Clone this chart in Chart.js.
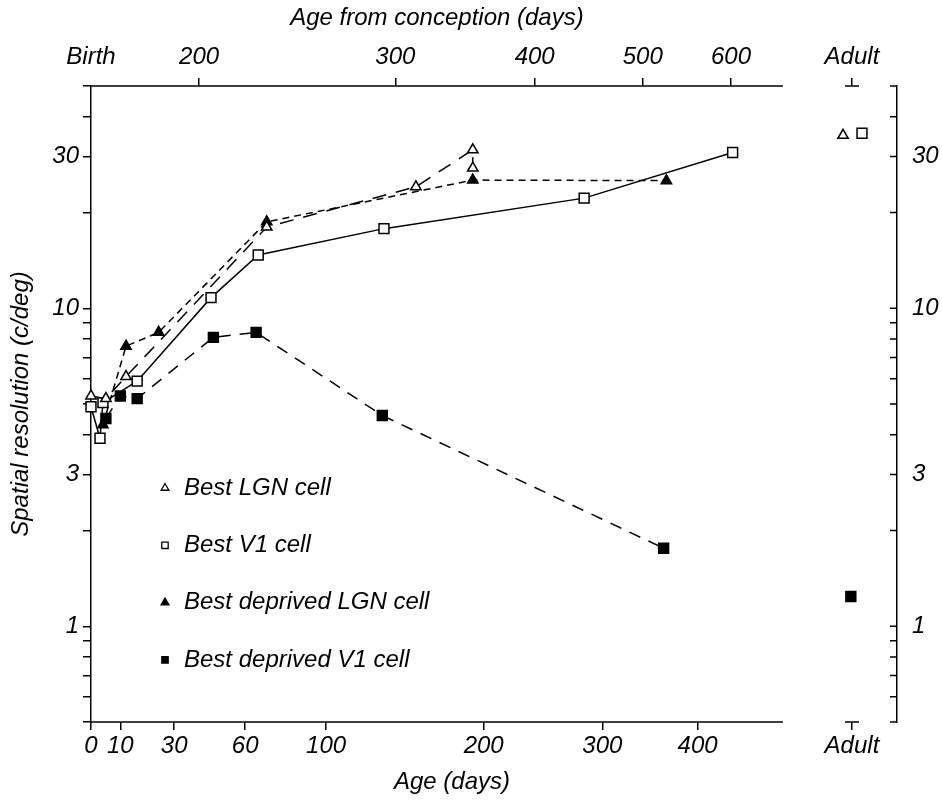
<!DOCTYPE html>
<html>
<head>
<meta charset="utf-8">
<title>Spatial resolution vs age</title>
<script src="https://cdn.jsdelivr.net/npm/chart.js@4.4.1/dist/chart.umd.min.js"></script>
<style>
  body { margin: 0; background: #fff; }
  canvas { display: block; }
</style>
</head>
<body>
<canvas id="chart" width="942" height="803"></canvas>
<script>
////data //////////////////////////////////////////////////////////////

// days from conception to birth (top axis = age + this)
const GESTATION = 160;

// Best LGN cell (open triangles)
const lgnAges = [0, 5, 12, 70, 153, 192, 192];
const lgnRes = [5.3, 5.2, 6.1, 18.0, 24.1, 31.5, 27.6];

// Best V1 cell (open squares)
const v1Ages = [0, 3, 4, 16, 45, 66, 133, 283, 442];
const v1Res = [4.9, 3.9, 5.05, 5.9, 10.8, 14.7, 17.8, 22.2, 30.9];

// Best deprived LGN cell (filled triangles)
const depLgnAges = [4, 12, 24, 70, 192, 365];
const depLgnRes = [4.3, 7.6, 8.4, 18.7, 25.3, 25.2];

// Best deprived V1 cell (filled squares)
const depV1Ages = [5, 10, 16, 46, 65, 132, 362];
const depV1Res = [4.5, 5.3, 5.2, 8.1, 8.4, 4.6, 1.76];

// adult values: LGN, V1, deprived V1
const adultRes = [35.0, 35.5, 1.24];

// ticks
const ageTicks = [0, 10, 30, 60, 100, 200, 300, 400];
const conceptionTicks = [160, 200, 300, 400, 500, 600];
const conceptionLabels = ["Birth", "200", "300", "400", "500", "600"];
const resTicks = [0.5, 0.6, 0.7, 0.8, 0.9, 1, 2, 3, 4, 5, 6, 7, 8, 9, 10, 20, 30, 40, 50];
const resLabels = [1, 3, 10, 30];

////axis layout ///////////////////////////////////////////////////////

const toX = (age) => Math.log10(age + GESTATION);
const X_MIN = toX(0);
const X_BREAK = 2.8247;   // where the age axis line stops
const ADULT_X = 2.8866;   // the separate "Adult" column
const X_MAX = 2.927;
const ADULT_SHIFT = [-0.008, 0.009, -0.001];

const FAMILY = "'Liberation Sans', Arial, sans-serif";
const FONT = { family: FAMILY, size: 24, style: "italic" };
const CSS_FONT = "italic 24px " + FAMILY;

function pts(ages, vals) {
  return ages.map((a, i) => ({ x: toX(a), y: vals[i] }));
}

////plugin: broken axis lines, titles, right inward ticks, legend /////

const extras = {
  id: "extras",
  afterDraw(chart) {
    const ctx = chart.ctx;
    const { left, top, right, bottom } = chart.chartArea;
    const x = chart.scales.x;
    const y2 = chart.scales.y2;
    const xb = x.getPixelForValue(X_BREAK);
    const xa = x.getPixelForValue(ADULT_X);
    ctx.save();
    ctx.strokeStyle = "#000";
    ctx.lineWidth = 1.5;
    ctx.beginPath();
    ctx.moveTo(left, top); ctx.lineTo(xb, top);
    ctx.moveTo(left, bottom); ctx.lineTo(xb, bottom);
    // adult crossbars
    ctx.moveTo(xa - 7, top); ctx.lineTo(xa + 7, top);
    ctx.moveTo(xa - 7, bottom); ctx.lineTo(xa + 7, bottom);
    // right axis ticks pointing inwards
    y2.ticks.forEach((t) => {
      const py = y2.getPixelForValue(t.value);
      ctx.moveTo(right - 7, py); ctx.lineTo(right, py);
    });
    ctx.stroke();

    // x titles, centred on the age part of the axis
    ctx.fillStyle = "#000";
    ctx.font = CSS_FONT;
    ctx.textBaseline = "middle";
    ctx.textAlign = "center";
    const mid = (left + xb) / 2;
    ctx.fillText("Age from conception (days)", mid, top - 68);
    ctx.fillText("Age (days)", mid + 15, bottom + 60);

    // legend inside plot
    let i = 0;
    ctx.textAlign = "left";
    chart.data.datasets.forEach((ds) => {
      if (ds.adult) return;
      const cy = top + 402 + i * 57.3;
      ctx.fillStyle = ds.pointBackgroundColor;
      ctx.strokeStyle = "#000";
      ctx.lineWidth = 1.3;
      Chart.helpers.drawPoint(ctx, { pointStyle: ds.pointStyle, radius: 4.5, rotation: 0, borderWidth: 1.3 }, left + 74, cy);
      ctx.fillStyle = "#000";
      ctx.fillText(ds.label, left + 93, cy);
      i++;
    });
    ctx.restore();
  },
};

////datasets //////////////////////////////////////////////////////////

function series(label, data, dash, style, fill, radius) {
  return {
    label: label,
    data: data,
    borderColor: "#000",
    borderWidth: 1.5,
    borderDash: dash,
    pointStyle: style,
    pointRadius: radius,
    pointBorderWidth: 1.5,
    pointBorderColor: "#000",
    pointBackgroundColor: fill,
    showLine: true,
    clip: false,
    xAxisID: "x",
    yAxisID: "y",
  };
}

function adultPoint(label, i, style, fill, radius) {
  const ds = series(label, [{ x: ADULT_X + ADULT_SHIFT[i], y: adultRes[i] }], [], style, fill, radius);
  ds.showLine = false;
  ds.adult = true;
  return ds;
}

const datasets = [
  series("Best LGN cell", pts(lgnAges, lgnRes), [14, 10], "triangle", "#fff", 6),
  series("Best V1 cell", pts(v1Ages, v1Res), [], "rect", "#fff", 7),
  series("Best deprived LGN cell", pts(depLgnAges, depLgnRes), [7, 5], "triangle", "#000", 6),
  series("Best deprived V1 cell", pts(depV1Ages, depV1Res), [12, 9], "rect", "#000", 7),
  adultPoint("Adult LGN", 0, "triangle", "#fff", 6),
  adultPoint("Adult V1", 1, "rect", "#fff", 7),
  adultPoint("Adult deprived V1", 2, "rect", "#000", 7),
];

////scales ////////////////////////////////////////////////////////////

const bottomVals = ageTicks.map(toX).concat([ADULT_X]);
const bottomLabels = ageTicks.map(String).concat(["Adult"]);
const topVals = conceptionTicks.map(Math.log10).concat([ADULT_X]);
const topLabels = conceptionLabels.concat(["Adult"]);

function xScale(pos, vals, labels, tickPad, height) {
  return {
    type: "linear",
    position: pos,
    min: X_MIN,
    max: X_MAX,
    afterBuildTicks: (s) => { s.ticks = vals.map((v) => ({ value: v })); },
    afterFit: (s) => { s.height = height; },
    ticks: {
      autoSkip: false,
      maxRotation: 0,
      padding: tickPad,
      color: "#000",
      font: FONT,
      callback: (v, idx) => labels[idx],
    },
    grid: {
      drawOnChartArea: false,
      drawTicks: true,
      tickLength: 8,
      lineWidth: 1.5,
      color: (c) => (pos === "top" && c.index === 0 ? "rgba(0,0,0,0)" : "#000"),
    },
    border: { display: false },
  };
}

function yScale(pos, width) {
  const right = pos === "right";
  return {
    type: "logarithmic",
    position: pos,
    min: 0.5,
    max: 50,
    afterBuildTicks: (s) => { s.ticks = resTicks.map((v) => ({ value: v })); },
    afterFit: (s) => { s.width = width; },
    ticks: {
      autoSkip: false,
      padding: right ? 7 : 4,
      color: "#000",
      font: FONT,
      callback: (v) => (resLabels.includes(v) ? String(v) : ""),
    },
    grid: right
      ? { display: false }
      : { drawOnChartArea: false, drawTicks: true, tickLength: 8, lineWidth: 1.5, color: "#000" },
    border: { display: true, color: "#000", width: 1.5 },
    title: right
      ? { display: false }
      : { display: true, text: "Spatial resolution (c/deg)", color: "#000", font: FONT, padding: { top: 7, bottom: 0 } },
  };
}

new Chart(document.getElementById("chart"), {
  type: "scatter",
  data: { datasets: datasets },
  options: {
    responsive: false,
    devicePixelRatio: 1,
    animation: false,
    layout: { padding: 0 },
    plugins: { legend: { display: false }, tooltip: { enabled: false } },
    scales: {
      x: xScale("bottom", bottomVals, bottomLabels, 2, 81),
      x2: xScale("top", topVals, topLabels, 6, 86),
      y: yScale("left", 91),
      y2: yScale("right", 45),
    },
  },
  plugins: [extras],
});
</script>
</body>
</html>
